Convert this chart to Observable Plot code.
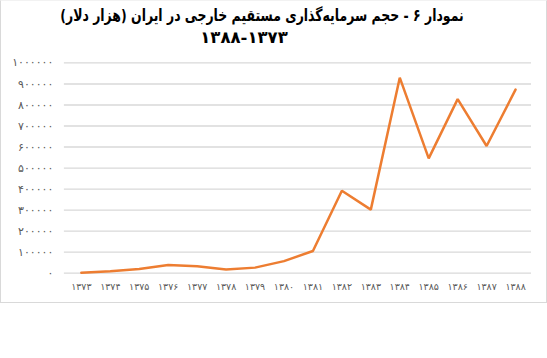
<!DOCTYPE html>
<html>
<head>
<meta charset="utf-8">
<script src="https://cdn.jsdelivr.net/npm/d3@7"></script>
<script src="https://cdn.jsdelivr.net/npm/@observablehq/plot@0.6"></script>
<style>
  html, body { margin: 0; padding: 0; background: #fff; }
  #frame { position: relative; width: 547px; height: 303px; box-sizing: border-box; border: 1px solid #d9d9d9; border-top-color: #f2f2f2; }
  #head { position: relative; height: 49px; }
  .t { position: absolute; white-space: nowrap; font-family: "DejaVu Sans", sans-serif; font-weight: bold; color: #000; }
  #t1 { left: 261px; top: 5px; font-size: 16.5px; direction: rtl; transform: translateX(-50%) scaleX(0.755); }
  #t2 { left: 243px; top: 27px; font-size: 16.5px; transform: translateX(-50%); }
  #chart { position: absolute; left: -1px; top: 49px; }
</style>
</head>
<body>
<div id="frame">
  <div id="head">
    <div class="t" id="t1" dir="rtl">نمودار ۶  - حجم سرمایه‌گذاری مستقیم خارجی در ایران (هزار دلار)</div>
    <div class="t" id="t2">۱۳۸۸-۱۳۷۳</div>
  </div>
  <div id="chart"></div>
</div>
<script>
const years = [1373, 1374, 1375, 1376, 1377, 1378, 1379, 1380, 1381, 1382, 1383, 1384, 1385, 1386, 1387, 1388];
const values = [2000, 9000, 19000, 39000, 32000, 17000, 26000, 57000, 105000, 392000, 302000, 930000, 546000, 828000, 605000, 873000];
const yTicks = [0, 100000, 200000, 300000, 400000, 500000, 600000, 700000, 800000, 900000, 1000000];

const fa = s => String(s).replace(/\d/g, d => "۰۱۲۳۴۵۶۷۸۹"[d]);
const data = years.map((y, i) => ({year: y, value: values[i]}));

const plot = Plot.plot({
  width: 547,
  height: 253,
  marginLeft: 64,
  marginRight: 15,
  marginTop: 12.5,
  marginBottom: 30,
  style: {fontFamily: "DejaVu Sans, sans-serif", fontSize: "9.5px", color: "#595959", background: "transparent"},
  x: {type: "point", domain: years, padding: 0.5, label: null},
  y: {domain: [0, 1000000], label: null},
  marks: [
    Plot.ruleY(yTicks, {stroke: "#d9d9d9", strokeWidth: 1.3}),
    Plot.axisY({ticks: yTicks, tickSize: 0, tickPadding: 11, tickFormat: fa, fontSize: 11, label: null}),
    Plot.axisX({tickSize: 0, tickPadding: 10, tickFormat: fa, label: null}),
    Plot.line(data, {x: "year", y: "value", stroke: "#ED7D31", strokeWidth: 2.5, strokeLinejoin: "miter"})
  ]
});
document.getElementById("chart").appendChild(plot);
</script>
</body>
</html>
